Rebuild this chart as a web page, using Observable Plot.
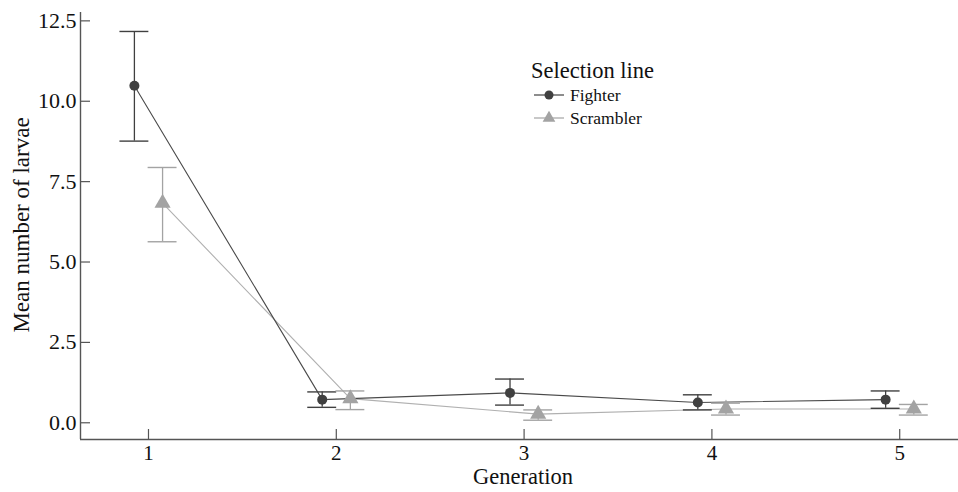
<!DOCTYPE html>
<html>
<head>
<meta charset="utf-8">
<script src="https://cdn.jsdelivr.net/npm/d3@7"></script>
<script src="https://cdn.jsdelivr.net/npm/@observablehq/plot@0.6"></script>
<style>
  html, body { margin: 0; padding: 0; background: #fff; }
  #wrap { position: relative; width: 958px; height: 492px; font-family: "Liberation Serif", "Times New Roman", serif; }
  #wrap svg text { font-family: "Liberation Serif", "Times New Roman", serif; }
  #overlay { position: absolute; left: 0; top: 0; pointer-events: none; }
</style>
</head>
<body>
<div id="wrap"></div>
<script>
// ---- data ----
const generations = [1, 2, 3, 4, 5];
const seriesNames = ["Fighter", "Scrambler"];
const fighterMean = [10.48, 0.72, 0.93, 0.63, 0.72];
const fighterLo   = [8.76, 0.48, 0.55, 0.40, 0.45];
const fighterHi   = [12.17, 0.96, 1.36, 0.87, 0.99];
const scramblerMean = [6.83, 0.75, 0.27, 0.43, 0.43];
const scramblerLo   = [5.63, 0.41, 0.08, 0.24, 0.24];
const scramblerHi   = [7.94, 0.99, 0.40, 0.61, 0.57];
const yTicks = [0, 2.5, 5, 7.5, 10, 12.5];
const xTicks = [1, 2, 3, 4, 5];
const yTitle = "Mean number of larvae";
const xTitle = "Generation";
const legendTitle = "Selection line";

// ---- build table ----
const xDomain = [0.638, 5.313];
const yDomain = [-0.52, 12.76];
const colors = {Fighter: "#404040", Scrambler: "#a3a3a3"};
const lineColors = {Fighter: "#4a4a4a", Scrambler: "#b0b0b0"};
const dodge = {Fighter: -0.075, Scrambler: 0.075};
const capHalf = 0.077;
const means = {Fighter: fighterMean, Scrambler: scramblerMean};
const los = {Fighter: fighterLo, Scrambler: scramblerLo};
const his = {Fighter: fighterHi, Scrambler: scramblerHi};
const data = [];
for (const s of seriesNames) {
  generations.forEach((g, i) => {
    data.push({series: s, gen: g, x: g + dodge[s], mean: means[s][i], lo: los[s][i], hi: his[s][i]});
  });
}
const fighter = data.filter(d => d.series === "Fighter");
const scrambler = data.filter(d => d.series === "Scrambler");
const serif = "'Liberation Serif', 'Times New Roman', serif";

const chart = Plot.plot({
  width: 958,
  height: 492,
  marginLeft: 80,
  marginRight: 0,
  marginTop: 12,
  marginBottom: 53,
  style: `font-family: ${serif}; background: #fff; overflow: visible;`,
  x: {domain: xDomain},
  y: {domain: yDomain},
  marks: [
    Plot.axisY({ticks: yTicks, tickFormat: d3.format(".1f"), tickSize: -10, tickPadding: 14, fontSize: 22, fontFamily: serif, stroke: "#555", strokeWidth: 1.2, color: "#111", label: null}),
    Plot.axisX({ticks: xTicks, tickFormat: d3.format("d"), tickSize: -10, tickPadding: 16, fontSize: 21, fontFamily: serif, stroke: "#555", strokeWidth: 1.2, color: "#111", label: null}),
    // axis lines
    Plot.ruleX([xDomain[0]], {stroke: "#555", strokeWidth: 1.4}),
    Plot.ruleY([yDomain[0]], {stroke: "#555", strokeWidth: 1.4}),
    // lines
    Plot.line(scrambler, {x: "x", y: "mean", stroke: lineColors.Scrambler, strokeWidth: 1.1}),
    Plot.line(fighter, {x: "x", y: "mean", stroke: lineColors.Fighter, strokeWidth: 1.1}),
    // error bars
    Plot.ruleX(data, {x: "x", y1: "lo", y2: "hi", stroke: d => colors[d.series], strokeWidth: 1.3}),
    Plot.ruleY(data, {y: "hi", x1: d => d.x - capHalf, x2: d => d.x + capHalf, stroke: d => colors[d.series], strokeWidth: 1.4}),
    Plot.ruleY(data, {y: "lo", x1: d => d.x - capHalf, x2: d => d.x + capHalf, stroke: d => colors[d.series], strokeWidth: 1.4}),
    // points
    Plot.dot(fighter, {x: "x", y: "mean", r: 5, fill: colors.Fighter, symbol: "circle"}),
    Plot.dot(scrambler, {x: "x", y: "mean", r: 6, fill: colors.Scrambler, symbol: "triangle"})
  ]
});
const wrap = document.getElementById("wrap");
wrap.appendChild(chart);

// ---- overlay: axis titles and legend ----
const ov = d3.select(wrap).append("svg").attr("id", "overlay").attr("width", 958).attr("height", 492)
  .style("font-family", serif);
ov.append("text").attr("transform", "translate(29,225) rotate(-90)").attr("text-anchor", "middle")
  .attr("font-size", 23).attr("fill", "#111").text(yTitle);
ov.append("text").attr("x", 523).attr("y", 484).attr("text-anchor", "middle")
  .attr("font-size", 22.5).attr("fill", "#111").text(xTitle);
ov.append("text").attr("x", 531).attr("y", 77.5).attr("font-size", 22.5).attr("fill", "#111").text(legendTitle);
seriesNames.forEach((s, i) => {
  const cy = 95 + i * 23;
  const g = ov.append("g");
  g.append("line").attr("x1", 534).attr("x2", 564).attr("y1", cy).attr("y2", cy).attr("stroke", colors[s]).attr("stroke-width", 1.2);
  if (s === "Fighter") {
    g.append("circle").attr("cx", 549).attr("cy", cy).attr("r", 4.5).attr("fill", colors[s]);
  } else {
    g.append("path").attr("transform", `translate(549,${cy})`).attr("d", d3.symbol(d3.symbolTriangle, 70)()).attr("fill", colors[s]);
  }
  g.append("text").attr("x", 570).attr("y", cy + 6).attr("font-size", 17.5).attr("fill", "#111").text(s);
});
</script>
</body>
</html>
